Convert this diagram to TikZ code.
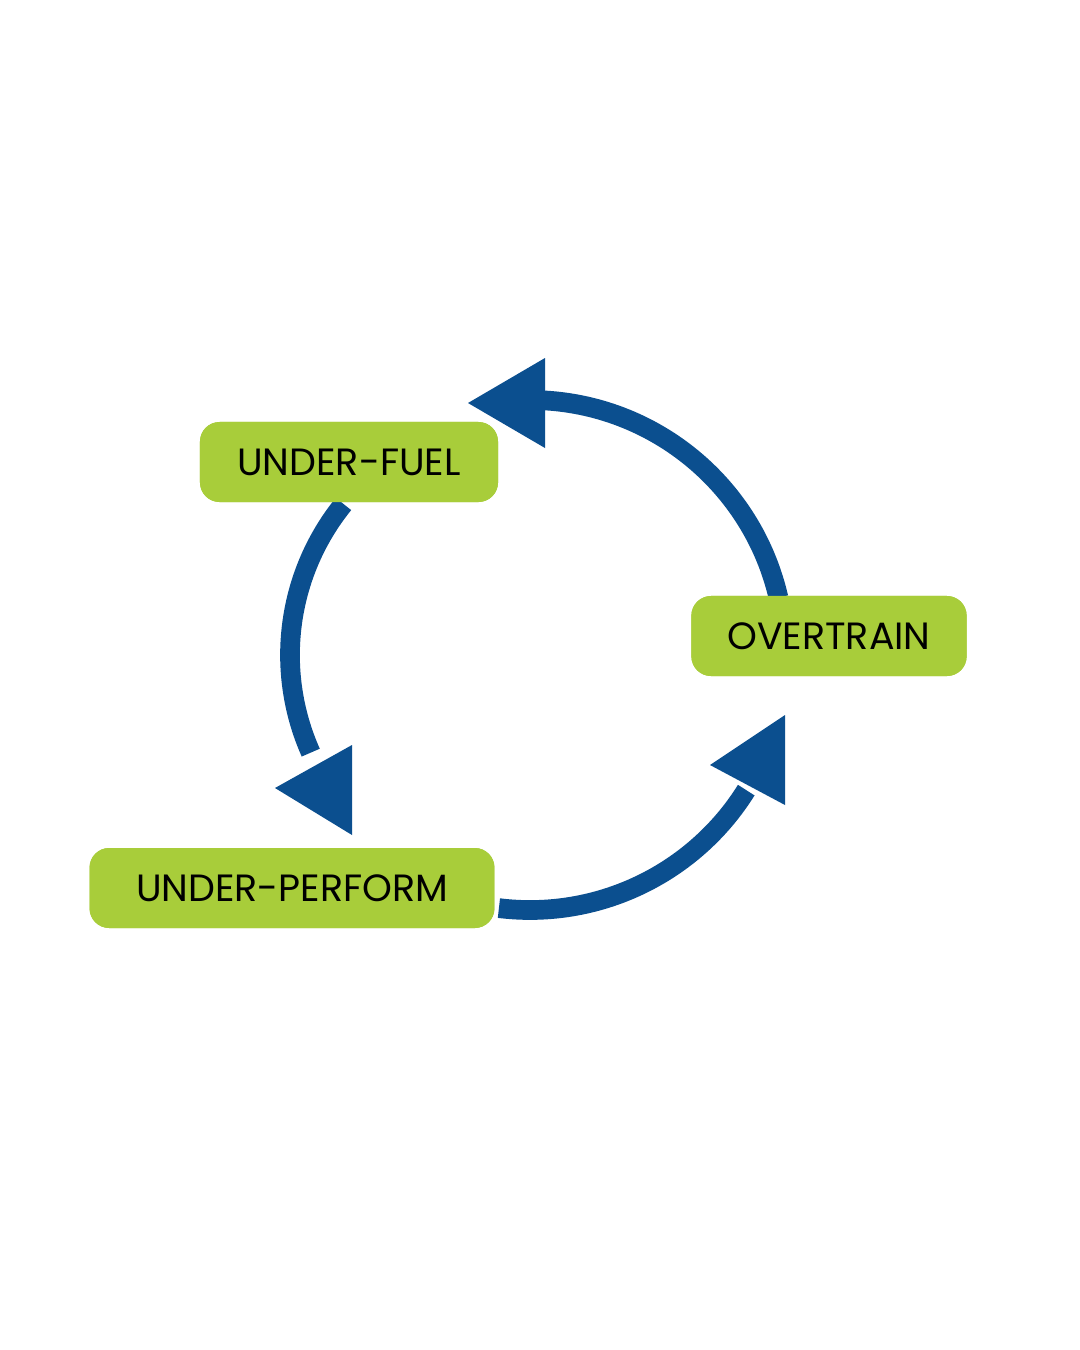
\documentclass[tikz,border=0pt]{standalone}
\usepackage{fontspec}
\setmainfont{Poppins}
\definecolor{cyclegreen}{HTML}{A8CD3A}
\definecolor{cycleblue}{HTML}{0B4F8F}
\tikzset{
  stagebox/.style={fill=cyclegreen,rounded corners=14pt,inner sep=0pt,font=\fontsize{27}{30}\selectfont},
  cyclearc/.style={draw=cycleblue,line width=14pt}
}
\begin{document}
\begin{tikzpicture}[x=0.025cm,y=-0.025cm]
\useasboundingbox[fill=white] (0,0) rectangle (1080,1350);
% stages
\node[stagebox,minimum width=298\pgflinewidth,text width=0pt] (fuel) at (349,462) {};
\node[stagebox,minimum width=7.45cm,minimum height=2cm] (fuel) at (349,462) {UNDER-FUEL};
\node[stagebox,minimum width=6.88cm,minimum height=2cm] (train) at (829,636) {OVERTRAIN};
\node[stagebox,minimum width=10.12cm,minimum height=2cm] (perform) at (292,888) {UNDER-PERFORM};
% arcs
\begin{scope}[on background layer/.try]
\draw[cyclearc] (530,655) ++(13:-250) ;
\end{scope}
\draw[cyclearc] (530,655) ++(-13:255) arc[start angle=-13,end angle=-88,radius=255];
\draw[cyclearc] (530,655) ++(-141:240) arc[start angle=-141,end angle=-204,radius=240];
\draw[cyclearc] (530,655) ++(-263:255) arc[start angle=-263,end angle=-328,radius=255];
% arrow heads
\fill[cycleblue] (468,403) -- (545,358) -- (545,448) -- cycle;
\fill[cycleblue] (275,788) -- (352,745) -- (352,835) -- cycle;
\fill[cycleblue] (710,765) -- (785,715) -- (785,805) -- cycle;
% boxes on top
\node[stagebox,minimum width=7.45cm,minimum height=2cm] at (fuel) {UNDER-FUEL};
\node[stagebox,minimum width=6.88cm,minimum height=2cm] at (train) {OVERTRAIN};
\node[stagebox,minimum width=10.12cm,minimum height=2cm] at (perform) {UNDER-PERFORM};
\end{tikzpicture}
\end{document}
